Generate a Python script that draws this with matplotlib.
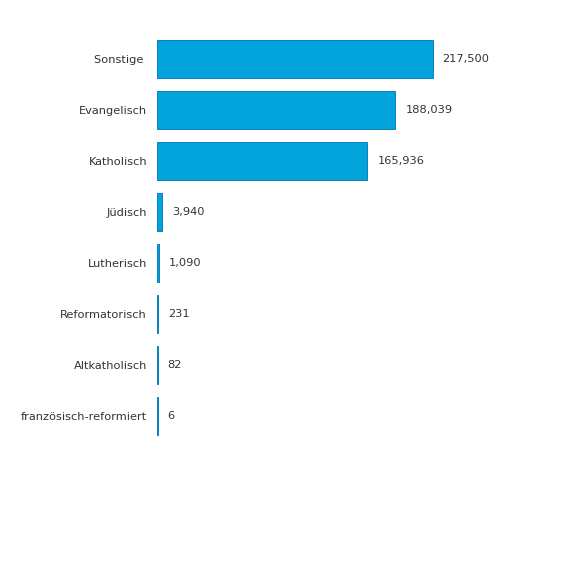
import numpy as np
import matplotlib
matplotlib.use('Agg')
import matplotlib.pyplot as plt

# datos
categorias = ['Sonstige ', 'Evangelisch', 'Katholisch', 'Jüdisch', 'Lutherisch',
              'Reformatorisch', 'Altkatholisch', 'französisch-reformiert']
valores = [217500, 188039, 165936, 3940, 1090, 231, 82, 6]

W, H = 564, 564
fig = plt.figure(figsize=(W/100, H/100), dpi=100)
# ejes en pixeles: x 157.5..540, y 33.5..441.5
x0 = 157.5
ax = fig.add_axes([x0/W, 1 - 441.5/H, (540-x0)/W, (441.5-33.5)/H])

y = np.arange(len(categorias))
ax.barh(y, valores, height=0.745, color='#03a3db', edgecolor='#0a82bd', linewidth=0.72)

xmax = 217500 * (540-x0) / (432.5-x0)
ax.set_xlim(0, xmax)
ax.set_ylim(len(categorias) - 0.5, -0.5)

fs = 8.2
ax.set_yticks(y)
ax.set_yticklabels(categorias, fontsize=fs, color='#333333')
ax.tick_params(axis='y', length=0, pad=7.5)
ax.set_xticks([])
for s in ax.spines.values():
    s.set_visible(False)

for yi, v in zip(y, valores):
    ax.annotate(f'{v:,}', xy=(v, yi), xytext=(10, 0), textcoords='offset pixels',
                va='center', ha='left', fontsize=fs, color='#333333')

fig.savefig('out.png', dpi=100)
